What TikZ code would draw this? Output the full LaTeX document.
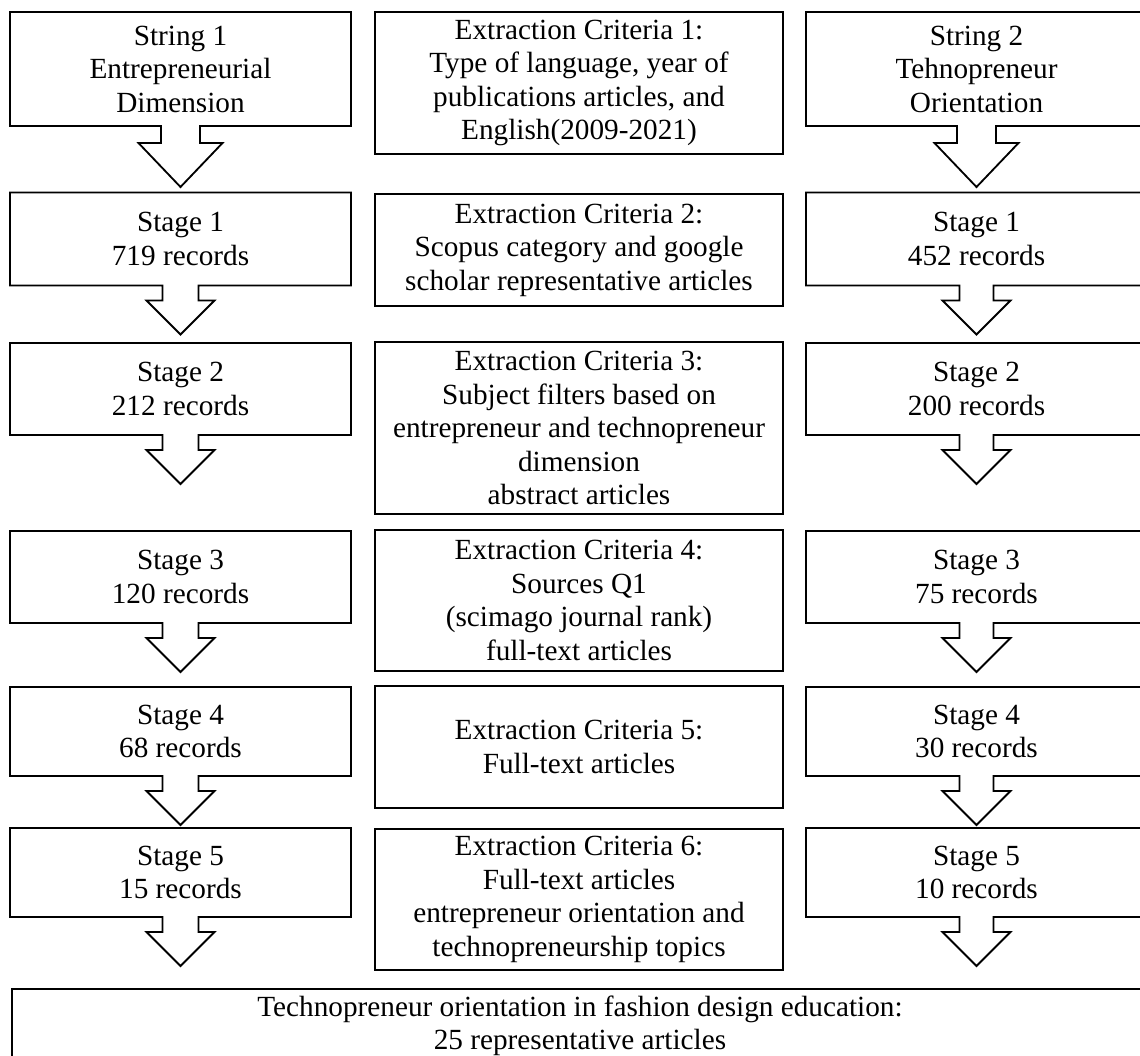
\documentclass[tikz,border=0pt]{standalone}
\usepackage{fontspec}
\setmainfont{Liberation Serif}
\usetikzlibrary{calc}
\tikzset{
  stagebox/.style={
    rectangle, minimum width=8.525cm,
    align=center, inner sep=0pt, outer sep=0pt,
    font=\fontsize{20.8}{23.8}\selectfont
  },
  critbox/.style={
    rectangle, draw=black, line width=1.3pt,
    minimum width=10.2cm,
    align=center, inner sep=0pt, outer sep=0pt,
    font=\fontsize{20.8}{23.8}\selectfont
  },
  outline/.style = {draw=black, line width=1.3pt, line join=miter},
}
% box outline with a hollow arrow under it:
% #1 node, #2 shaft half width, #3 shaft length, #4 head half width, #5 head length
\newcommand{\stagearrow}[5]{%
  \draw[outline] (#1.north west) -- (#1.north east) -- (#1.south east)
    -- ($(#1.south)+(#2,0)$) -- ($(#1.south)+(#2,#3)$)
    -- ($(#1.south)+(#4,#3)$) -- ($(#1.south)+(0,#3+#5)$)
    -- ($(#1.south)+(-#4,#3)$) -- ($(#1.south)+(-#2,#3)$)
    -- ($(#1.south)+(-#2,0)$) -- (#1.south west) -- cycle;
}
\begin{document}
\begin{tikzpicture}[x=0.025cm, y=-0.025cm]
\path[use as bounding box, clip] (0,0) rectangle (1140,1056);

%% -- Left column: String 1 and its stages ------------------------------------
\node[stagebox, minimum height=2.85cm]  (str1) at (180.5,  69)   {String 1\\Entrepreneurial\\Dimension};
\node[stagebox, minimum height=2.325cm] (a1)   at (180.5, 239)   {Stage 1\\719 records};
\node[stagebox, minimum height=2.3cm]   (a2)   at (180.5, 389)   {Stage 2\\212 records};
\node[stagebox, minimum height=2.3cm]   (a3)   at (180.5, 577)   {Stage 3\\120 records};
\node[stagebox, minimum height=2.225cm] (a4)   at (180.5, 731.5) {Stage 4\\68 records};
\node[stagebox, minimum height=2.225cm] (a5)   at (180.5, 872.5) {Stage 5\\15 records};

%% -- Right column: String 2 and its stages -----------------------------------
\node[stagebox, minimum height=2.85cm]  (str2) at (976.5,  69)   {String 2\\Tehnopreneur\\Orientation};
\node[stagebox, minimum height=2.325cm] (b1)   at (976.5, 239)   {Stage 1\\452 records};
\node[stagebox, minimum height=2.3cm]   (b2)   at (976.5, 389)   {Stage 2\\200 records};
\node[stagebox, minimum height=2.3cm]   (b3)   at (976.5, 577)   {Stage 3\\75 records};
\node[stagebox, minimum height=2.225cm] (b4)   at (976.5, 731.5) {Stage 4\\30 records};
\node[stagebox, minimum height=2.225cm] (b5)   at (976.5, 872.5) {Stage 5\\10 records};

%% -- Outlines with arrows ----------------------------------------------------
\stagearrow{str1}{19.5}{17}{42}{44}
\stagearrow{a1}{18}{15}{34}{34}
\stagearrow{a2}{18}{15}{34}{34}
\stagearrow{a3}{18}{15}{34}{34}
\stagearrow{a4}{18}{15}{34}{34}
\stagearrow{a5}{18}{15}{34}{34}

\stagearrow{str2}{19.5}{17}{42}{44}
\stagearrow{b1}{17}{15}{34}{34}
\stagearrow{b2}{17}{15}{34}{34}
\stagearrow{b3}{17}{15}{34}{34}
\stagearrow{b4}{17}{15}{34}{34}
\stagearrow{b5}{17}{15}{34}{34}

%% -- Middle column: extraction criteria --------------------------------------
\node[critbox, minimum height=3.55cm]  (c1) at (579,  83)   {Extraction Criteria 1:\\Type of language, year of\\publications articles, and\\English(2009-2021)};
\node[critbox, minimum height=2.8cm]   (c2) at (579, 250)   {Extraction Criteria 2:\\Scopus category and google\\scholar representative articles};
\node[critbox, minimum height=4.3cm]   (c3) at (579, 428)   {Extraction Criteria 3:\\Subject filters based on\\entrepreneur and technopreneur\\dimension\\abstract articles};
\node[critbox, minimum height=3.525cm] (c4) at (579, 600.5) {Extraction Criteria 4:\\Sources Q1\\(scimago journal rank)\\full-text articles};
\node[critbox, minimum height=3.05cm]  (c5) at (579, 747)   {Extraction Criteria 5:\\Full-text articles};
\node[critbox, minimum height=3.525cm] (c6) at (579, 899.5) {Extraction Criteria 6:\\Full-text articles\\entrepreneur orientation and\\technopreneurship topics};

%% -- Result ------------------------------------------------------------------
\node[critbox, minimum width=28.4cm, minimum height=1.85cm] (res) at (580, 1026)
  {Technopreneur orientation in fashion design education:\\25 representative articles};

\end{tikzpicture}
\end{document}
